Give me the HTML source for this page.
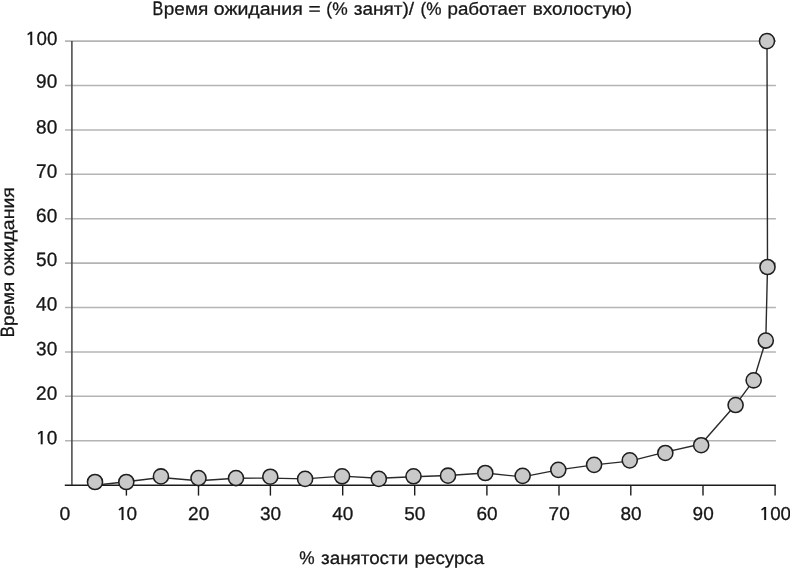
<!DOCTYPE html>
<html><head><meta charset="utf-8"><title>chart</title>
<style>
html,body{margin:0;padding:0;background:#fff;}
body{width:790px;height:569px;overflow:hidden;}
svg{display:block;will-change:transform;}
text{font-family:"Liberation Sans",sans-serif;font-size:19px;fill:#161616;stroke:#161616;stroke-width:0.3px;}
</style></head><body>
<svg width="790" height="569" viewBox="0 0 790 569">
<rect width="790" height="569" fill="#ffffff"/>

<g stroke="#b4b4b4" stroke-width="1.55">
<line x1="65" y1="41.1" x2="775.9" y2="41.1"/>
<line x1="65" y1="85.5" x2="775.9" y2="85.5"/>
<line x1="65" y1="129.9" x2="775.9" y2="129.9"/>
<line x1="65" y1="174.3" x2="775.9" y2="174.3"/>
<line x1="65" y1="218.7" x2="775.9" y2="218.7"/>
<line x1="65" y1="263.1" x2="775.9" y2="263.1"/>
<line x1="65" y1="307.5" x2="775.9" y2="307.5"/>
<line x1="65" y1="351.9" x2="775.9" y2="351.9"/>
<line x1="65" y1="396.3" x2="775.9" y2="396.3"/>
<line x1="65" y1="440.7" x2="775.9" y2="440.7"/>
</g>
<line x1="71.9" y1="41.1" x2="71.9" y2="485.1" stroke="#444444" stroke-width="1.5"/>
<line x1="64.8" y1="485.2" x2="775.8" y2="485.2" stroke="#1c1c1c" stroke-width="1.6"/>
<g stroke="#1c1c1c" stroke-width="1.4">
<line x1="126.4" y1="485.1" x2="126.4" y2="495.6"/>
<line x1="198.5" y1="485.1" x2="198.5" y2="495.6"/>
<line x1="270.4" y1="485.1" x2="270.4" y2="495.6"/>
<line x1="342.7" y1="485.1" x2="342.7" y2="495.6"/>
<line x1="414.7" y1="485.1" x2="414.7" y2="495.6"/>
<line x1="486.9" y1="485.1" x2="486.9" y2="495.6"/>
<line x1="559.0" y1="485.1" x2="559.0" y2="495.6"/>
<line x1="630.8" y1="485.1" x2="630.8" y2="495.6"/>
<line x1="703.0" y1="485.1" x2="703.0" y2="495.6"/>
<line x1="775.1" y1="485.1" x2="775.1" y2="495.6"/>
</g>
<polyline fill="none" stroke="#2a2a2a" stroke-width="1.4" stroke-linejoin="round" points="95.00,485.20 126.30,481.70 160.95,477.55 198.50,480.70 236.00,478.20 270.30,478.10 305.10,478.90 342.10,476.15 378.80,478.20 413.50,476.75 448.00,475.56 485.30,473.05 522.65,476.90 558.30,469.85 594.10,464.90 629.77,461.15 665.33,452.07 701.19,444.00 735.60,404.80 753.65,380.30 765.80,340.55 767.50,267.00 767.00,41.10"/>
<g fill="#c9c9c9" stroke="#1e1e1e" stroke-width="1.55">
<circle cx="95.00" cy="482.00" r="7.55"/>
<circle cx="126.30" cy="482.00" r="7.55"/>
<circle cx="160.95" cy="476.40" r="7.55"/>
<circle cx="198.50" cy="478.07" r="7.55"/>
<circle cx="236.00" cy="478.05" r="7.55"/>
<circle cx="270.30" cy="476.70" r="7.55"/>
<circle cx="305.10" cy="478.88" r="7.55"/>
<circle cx="342.10" cy="476.30" r="7.55"/>
<circle cx="378.80" cy="478.88" r="7.55"/>
<circle cx="413.50" cy="476.27" r="7.55"/>
<circle cx="448.00" cy="475.66" r="7.55"/>
<circle cx="485.30" cy="473.00" r="7.55"/>
<circle cx="522.65" cy="475.87" r="7.55"/>
<circle cx="558.30" cy="469.85" r="7.55"/>
<circle cx="594.10" cy="464.85" r="7.55"/>
<circle cx="629.77" cy="460.35" r="7.55"/>
<circle cx="665.33" cy="452.97" r="7.55"/>
<circle cx="701.19" cy="445.20" r="7.55"/>
<circle cx="735.60" cy="405.03" r="7.55"/>
<circle cx="753.65" cy="380.34" r="7.55"/>
<circle cx="765.80" cy="340.55" r="7.55"/>
<circle cx="767.50" cy="267.00" r="7.55"/>
<circle cx="767.00" cy="41.10" r="7.55"/>
</g>
<path transform="translate(30.20,44.98)" d="M0.1,-13.3 L2,-13.3 L2,0 L0.1,0 L0.1,-11.20 L-2.3,-9.80 L-2.85,-11.10 Z" fill="#161616" stroke="#161616" stroke-width="0.1"/>
<text transform="translate(36.51,44.98) rotate(0.05) scale(1,1.015)" textLength="20.82" lengthAdjust="spacingAndGlyphs">00</text>
<text transform="translate(36.10,87.83) rotate(0.05) scale(1,1.015)" textLength="21.10" lengthAdjust="spacingAndGlyphs">90</text>
<text transform="translate(36.10,133.48) rotate(0.05) scale(1,1.015)" textLength="21.10" lengthAdjust="spacingAndGlyphs">80</text>
<text transform="translate(36.10,177.77) rotate(0.05) scale(1,1.015)" textLength="21.10" lengthAdjust="spacingAndGlyphs">70</text>
<text transform="translate(36.10,222.12) rotate(0.05) scale(1,1.015)" textLength="21.10" lengthAdjust="spacingAndGlyphs">60</text>
<text transform="translate(36.10,266.02) rotate(0.05) scale(1,1.015)" textLength="21.10" lengthAdjust="spacingAndGlyphs">50</text>
<text transform="translate(36.10,310.58) rotate(0.05) scale(1,1.015)" textLength="21.10" lengthAdjust="spacingAndGlyphs">40</text>
<text transform="translate(36.10,355.34) rotate(0.05) scale(1,1.015)" textLength="21.10" lengthAdjust="spacingAndGlyphs">30</text>
<text transform="translate(36.10,399.83) rotate(0.05) scale(1,1.015)" textLength="21.10" lengthAdjust="spacingAndGlyphs">20</text>
<path transform="translate(40.65,444.28)" d="M0.1,-13.3 L2,-13.3 L2,0 L0.1,0 L0.1,-11.20 L-2.3,-9.80 L-2.85,-11.10 Z" fill="#161616" stroke="#161616" stroke-width="0.1"/>
<text transform="translate(46.65,444.28) rotate(0.05) scale(1,1.015)" textLength="10.55" lengthAdjust="spacingAndGlyphs">0</text>
<g style="stroke-width:0.2px">
<text transform="translate(59.50,519.90) rotate(0.05) scale(1,0.98)" textLength="10.80" lengthAdjust="spacingAndGlyphs">0</text>
<path transform="translate(121.50,519.90)" d="M0.1,-12.9 L2,-12.9 L2,0 L0.1,0 L0.1,-10.80 L-2.3,-9.40 L-2.85,-10.70 Z" fill="#161616" stroke="#161616" stroke-width="0.1"/>
<text transform="translate(126.55,519.90) rotate(0.05) scale(1,0.98)" textLength="10.55" lengthAdjust="spacingAndGlyphs">0</text>
<text transform="translate(188.10,519.90) rotate(0.05) scale(1,0.98)" textLength="21.10" lengthAdjust="spacingAndGlyphs">20</text>
<text transform="translate(260.00,519.90) rotate(0.05) scale(1,0.98)" textLength="21.10" lengthAdjust="spacingAndGlyphs">30</text>
<text transform="translate(332.30,519.90) rotate(0.05) scale(1,0.98)" textLength="21.10" lengthAdjust="spacingAndGlyphs">40</text>
<text transform="translate(404.30,519.90) rotate(0.05) scale(1,0.98)" textLength="21.10" lengthAdjust="spacingAndGlyphs">50</text>
<text transform="translate(476.50,519.90) rotate(0.05) scale(1,0.98)" textLength="21.10" lengthAdjust="spacingAndGlyphs">60</text>
<text transform="translate(548.60,519.90) rotate(0.05) scale(1,0.98)" textLength="21.10" lengthAdjust="spacingAndGlyphs">70</text>
<text transform="translate(620.40,519.90) rotate(0.05) scale(1,0.98)" textLength="21.10" lengthAdjust="spacingAndGlyphs">80</text>
<text transform="translate(692.60,519.90) rotate(0.05) scale(1,0.98)" textLength="21.10" lengthAdjust="spacingAndGlyphs">90</text>
<path transform="translate(764.10,519.90)" d="M0.1,-12.9 L2,-12.9 L2,0 L0.1,0 L0.1,-10.80 L-2.3,-9.40 L-2.85,-10.70 Z" fill="#161616" stroke="#161616" stroke-width="0.1"/>
<text transform="translate(770.20,519.90) rotate(0.05) scale(1,0.98)" textLength="20.82" lengthAdjust="spacingAndGlyphs">00</text>
</g>
<text transform="translate(152.60,14.90) rotate(0.05) scale(1,1.035)" textLength="10.76" lengthAdjust="spacingAndGlyphs">В</text>
<text transform="translate(163.80,14.65) rotate(0.05) scale(1,0.93)" textLength="44.45" lengthAdjust="spacingAndGlyphs">ремя</text>
<text transform="translate(213.75,14.65) rotate(0.05) scale(1,0.93)" textLength="89.04" lengthAdjust="spacingAndGlyphs">ожидания</text>
<text transform="translate(308.40,14.65) rotate(0.05) scale(1,0.93)" textLength="12.17" lengthAdjust="spacingAndGlyphs">=</text>
<text transform="translate(326.35,14.65) rotate(0.05) scale(1,0.93)" textLength="21.26" lengthAdjust="spacingAndGlyphs">(%</text>
<text transform="translate(353.85,14.65) rotate(0.05) scale(1,0.93)" textLength="60.28" lengthAdjust="spacingAndGlyphs">занят)/</text>
<text transform="translate(420.55,14.65) rotate(0.05) scale(1,0.93)" textLength="20.94" lengthAdjust="spacingAndGlyphs">(%</text>
<text transform="translate(447.50,14.65) rotate(0.05) scale(1,0.93)" textLength="78.79" lengthAdjust="spacingAndGlyphs">работает</text>
<text transform="translate(532.80,14.65) rotate(0.05) scale(1,0.93)" textLength="99.23" lengthAdjust="spacingAndGlyphs">вхолостую)</text>
<text transform="translate(299.15,564.00) rotate(0.05) scale(1,0.96)" textLength="15.35" lengthAdjust="spacingAndGlyphs">%</text>
<text transform="translate(321.05,564.00) rotate(0.05) scale(1,0.93)" textLength="87.13" lengthAdjust="spacingAndGlyphs">занятости</text>
<text transform="translate(414.60,564.00) rotate(0.05) scale(1,0.93)" textLength="69.45" lengthAdjust="spacingAndGlyphs">ресурса</text>
<text transform="translate(13.95,337.25) rotate(-90.05) scale(1,1.02)" textLength="11.02" lengthAdjust="spacingAndGlyphs">В</text>
<text transform="translate(13.95,326.05) rotate(-90.05) scale(1,0.93)" textLength="44.29" lengthAdjust="spacingAndGlyphs">ремя</text>
<text transform="translate(13.95,275.90) rotate(-90.05) scale(1,0.93)" textLength="88.67" lengthAdjust="spacingAndGlyphs">ожидания</text>
</svg></body></html>
